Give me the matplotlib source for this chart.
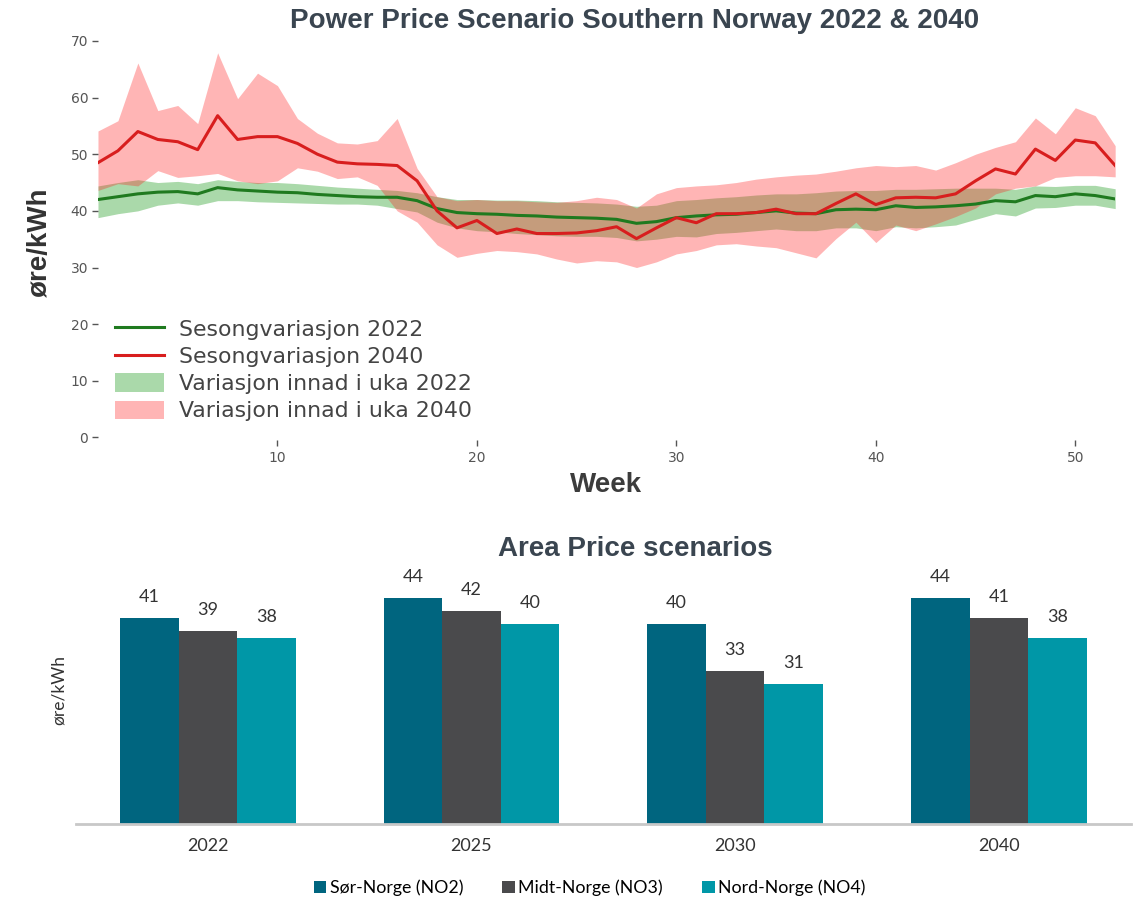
import matplotlib

matplotlib.use("Agg")
import matplotlib.pyplot as plt  # noqa: E402
import numpy as np  # noqa: E402

# --- top panel: weekly power price, southern Norway -------------------------
WEEKS = list(range(1, 53))

PRICE_2040 = [
    48.5, 50.6, 54.0, 52.6, 52.2, 50.8, 56.8, 52.6, 53.1, 53.1,
    51.9, 50.0, 48.6, 48.3, 48.2, 48.0, 45.3, 40.0, 37.0, 38.3,
    36.0, 36.8, 36.0, 36.0, 36.1, 36.5, 37.2, 35.1, 37.0, 38.8,
    37.9, 39.5, 39.5, 39.7, 40.3, 39.5, 39.5, 41.3, 43.0, 41.1,
    42.3, 42.4, 42.3, 43.0, 45.3, 47.4, 46.5, 50.9, 48.9, 52.5,
    52.0, 48.0,
]
PRICE_2022 = [
    42.0, 42.5, 43.0, 43.3, 43.4, 43.0, 44.1, 43.7, 43.5, 43.3,
    43.2, 42.9, 42.7, 42.5, 42.4, 42.4, 41.8, 40.4, 39.7, 39.5,
    39.4, 39.2, 39.1, 38.9, 38.8, 38.7, 38.5, 37.8, 38.1, 38.8,
    39.1, 39.3, 39.4, 39.7, 40.0, 39.6, 39.5, 40.2, 40.3, 40.2,
    40.9, 40.6, 40.7, 40.9, 41.2, 41.8, 41.6, 42.7, 42.5, 43.0,
    42.7, 42.1,
]
BAND_2040_HI = [
    54.1, 55.9, 66.1, 57.7, 58.6, 55.4, 67.9, 59.8, 64.3, 62.1,
    56.3, 53.7, 52.0, 51.8, 52.4, 56.3, 47.5, 42.5, 41.8, 42.0,
    41.8, 41.8, 41.6, 41.5, 41.8, 42.4, 42.0, 40.5, 43.0, 44.1,
    44.4, 44.6, 45.0, 45.6, 46.0, 46.3, 46.5, 47.0, 47.6, 48.0,
    47.8, 48.0, 47.2, 48.5, 50.0, 51.2, 52.2, 56.4, 53.6, 58.2,
    56.8, 51.5,
]
BAND_2040_LO = [
    43.6, 44.8, 44.4, 47.1, 45.9, 46.2, 46.6, 45.3, 44.8, 45.3,
    47.6, 47.0, 45.7, 46.0, 44.5, 40.0, 38.0, 34.0, 31.8, 32.5,
    33.0, 32.8, 32.4, 31.5, 30.8, 31.2, 31.0, 30.0, 31.0, 32.4,
    33.0, 34.0, 34.2, 33.8, 33.5, 32.6, 31.7, 35.1, 38.0, 34.4,
    37.5, 36.5, 37.7, 39.0, 40.5, 43.0, 44.0, 44.4, 45.9, 46.2,
    46.2, 46.0,
]
BAND_2022_HI = [
    44.4, 45.0, 45.5, 45.0, 45.2, 44.8, 45.5, 45.2, 45.0, 45.0,
    44.8, 44.5, 44.2, 44.0, 43.8, 43.6, 43.2, 42.5, 42.0, 42.0,
    41.9, 41.9, 41.8, 41.6, 41.5, 41.4, 41.2, 40.8, 41.0, 41.8,
    42.0, 42.3, 42.5, 42.8, 43.0, 43.0, 43.2, 43.5, 43.6, 43.6,
    43.8, 43.8, 43.9, 44.0, 44.0, 44.0, 43.8, 44.4, 44.3, 44.5,
    44.5, 43.9,
]
BAND_2022_LO = [
    38.8, 39.5, 40.0, 41.0, 41.4, 41.0, 41.8, 41.8, 41.6, 41.5,
    41.4, 41.3, 41.2, 41.2, 41.0, 40.4, 39.8, 38.0, 37.0, 36.5,
    36.3, 36.0, 35.8, 35.6, 35.5, 35.5, 35.3, 34.7, 35.0, 35.5,
    35.4, 36.0, 36.2, 36.5, 36.8, 36.5, 36.5, 37.0, 37.0, 36.5,
    37.2, 37.0, 37.2, 37.5, 38.5, 39.5, 39.1, 40.5, 40.6, 41.0,
    41.0, 40.4,
]

# --- bottom panel: yearly area prices ----------------------------------------
YEARS = ["2022", "2025", "2030", "2040"]
AREAS = ["Sør-Norge (NO2)", "Midt-Norge (NO3)", "Nord-Norge (NO4)"]
AREA_PRICES = {
    "Sør-Norge (NO2)": [41, 44, 40, 44],
    "Midt-Norge (NO3)": [39, 42, 33, 41],
    "Nord-Norge (NO4)": [38, 40, 31, 38],
}
AREA_COLORS = ["#00657f", "#4a4a4c", "#0097a7"]

TITLE_COLOR = "#3a4550"
TICK_COLOR = "#555555"
BOLD = "Liberation Sans"

fig = plt.figure(figsize=(11.34, 9.06), dpi=100)

# top chart
ax = fig.add_axes([0.0864, 0.514, 0.897, 0.444])
ax.fill_between(WEEKS, BAND_2022_LO, BAND_2022_HI, color="#2ca02c", alpha=0.4,
                linewidth=0, label="Variasjon innad i uka 2022")
ax.fill_between(WEEKS, BAND_2040_LO, BAND_2040_HI, color="#ff2020", alpha=0.33,
                linewidth=0, label="Variasjon innad i uka 2040")
ax.plot(WEEKS, PRICE_2022, color="#1f7a1f", linewidth=2.2,
        label="Sesongvariasjon 2022")
ax.plot(WEEKS, PRICE_2040, color="#d81e1e", linewidth=2.2,
        label="Sesongvariasjon 2040")
ax.set_xlim(1, 52)
ax.set_ylim(-0.5, 70.5)
ax.set_xticks([10, 20, 30, 40, 50])
ax.set_yticks(np.arange(0, 71, 10))
for side in ("top", "right", "bottom", "left"):
    ax.spines[side].set_visible(False)
ax.tick_params(axis="both", colors=TICK_COLOR, labelsize=10, length=4,
               width=1, pad=3)
ax.tick_params(axis="x", pad=4)
fig.text(0.035, 0.733, "øre/kWh", rotation=90, ha="center", va="center",
         fontsize=20, fontweight="bold", color="#333333", family=BOLD)
fig.text(0.534, 0.465, "Week", ha="center", va="center",
         fontsize=20, fontweight="bold", color="#3c3c3c", family=BOLD)
fig.text(0.56, 0.977, "Power Price Scenario Southern Norway 2022 & 2040",
         ha="center", va="center", fontsize=20, fontweight="bold",
         color=TITLE_COLOR, family=BOLD)

handles, labels = ax.get_legend_handles_labels()
order = [2, 3, 0, 1]
leg = ax.legend([handles[i] for i in order], [labels[i] for i in order],
                loc="lower left", bbox_to_anchor=(0.017, 0.047), frameon=False,
                fontsize=15.8, handlelength=2.2, handleheight=0.9,
                handletextpad=0.7, labelspacing=0.3, borderaxespad=0,
                borderpad=0)
for text in leg.get_texts():
    text.set_color("#444444")

# bottom chart
bx = fig.add_axes([0.067, 0.0905, 0.930, 0.2815])
x = np.arange(len(YEARS))
bar_w = 0.222
for i, area in enumerate(AREAS):
    vals = AREA_PRICES[area]
    bars = bx.bar(x + (i - 1) * bar_w, vals, width=bar_w,
                  color=AREA_COLORS[i], label=area)
    for rect, v in zip(bars, vals):
        bx.annotate(str(v), (rect.get_x() + rect.get_width() / 2, v),
                    xytext=(0, 15), textcoords="offset points",
                    ha="center", va="center", fontsize=13,
                    family="Lato", color="#333333")
bx.set_xlim(-0.5, len(YEARS) - 0.5)
bx.set_ylim(10, 48.3)
bx.set_xticks(x)
bx.set_xticklabels(YEARS, fontsize=13, family="Lato", color="#333333")
bx.set_yticks([])
for side in ("top", "right", "left"):
    bx.spines[side].set_visible(False)
bx.spines["bottom"].set_color("#c8c8c8")
bx.spines["bottom"].set_linewidth(2)
bx.tick_params(axis="x", length=0, pad=10)
fig.text(0.052, 0.238, "øre/kWh", rotation=90, ha="center", va="center",
         fontsize=12.5, family="Lato", color="#333333")
fig.text(0.56, 0.394, "Area Price scenarios", ha="center", va="center",
         fontsize=20, fontweight="bold", color=TITLE_COLOR, family=BOLD)
bx.legend(loc="upper center", bbox_to_anchor=(0.487, -0.155), ncol=3,
          frameon=False, handlelength=0.7, handleheight=0.7,
          handletextpad=0.2, columnspacing=2.2,
          prop={"family": "Lato", "size": 12.8})

fig.savefig("out.png", dpi=100)
plt.close(fig)
